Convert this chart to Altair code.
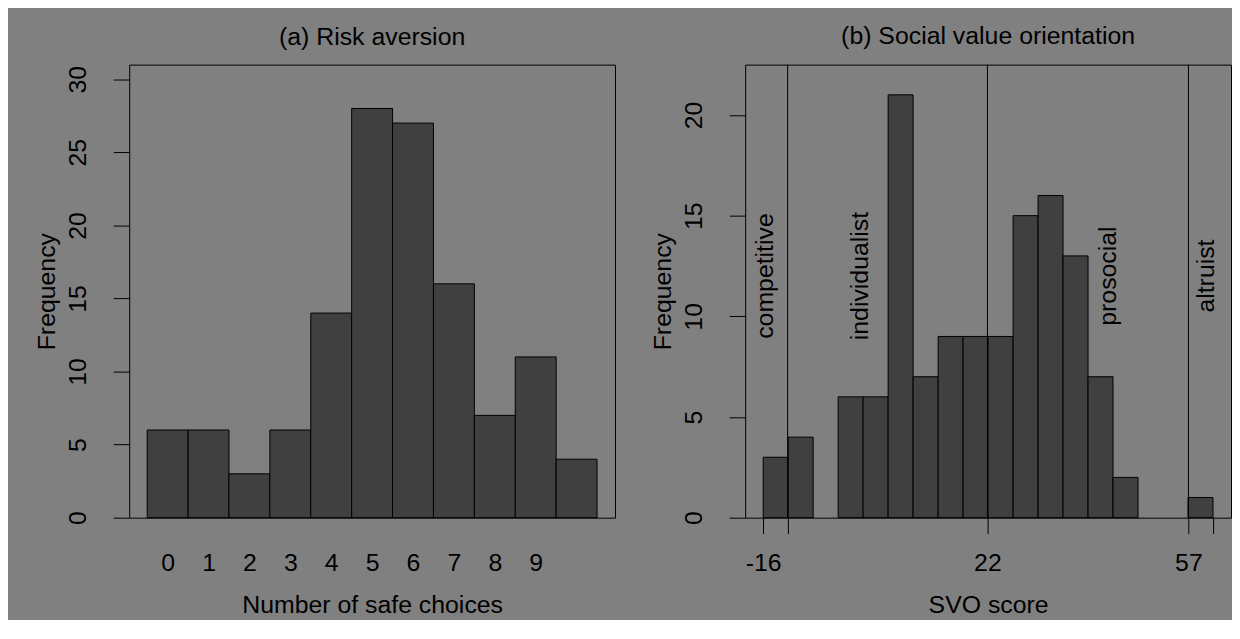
import altair as alt
import pandas as pd

# ---------------- data ----------------
# (a) Risk aversion: number of safe choices (0..10) and their frequencies
safe_choices = [0, 1, 2, 3, 4, 5, 6, 7, 8, 9, 10]
safe_counts = [6, 6, 3, 6, 14, 28, 27, 16, 7, 11, 4]
safe_tick_values = [0, 1, 2, 3, 4, 5, 6, 7, 8, 9]
safe_y_ticks = [0, 5, 10, 15, 20, 25, 30]

# (b) Social value orientation: histogram bin edges and counts
svo_edges = [-16.26, -11.95, -7.63, -3.32, 0.99, 5.31, 9.62, 13.94, 18.25,
             22.56, 26.88, 31.19, 35.50, 39.82, 44.13, 48.45, 52.76, 57.08, 61.39]
svo_counts = [3, 4, 0, 6, 6, 21, 7, 9, 9, 9, 15, 16, 13, 7, 2, 0, 0, 1]
svo_tick_values = [-16.26, -12.04, 22.45, 57.15, 61.39]
svo_tick_labels = ["-16", "", "22", "57", ""]
svo_y_ticks = [0, 5, 10, 15, 20]
svo_boundaries = [-12.04, 22.45, 57.15]
svo_types = ["competitive", "individualist", "prosocial", "altruist"]
svo_type_x = [-15.9, 0.4, 43.2, 60.2]
svo_type_y = [12, 12, 12, 12]

# ---------------- style ----------------
FONT = "Liberation Sans"
FS = 25
BG = "#808080"
BAR = "#404040"
INK = "#000000"
W, H = 489, 456

common_axis = dict(
    domain=False, grid=False,
    labelFont=FONT, labelFontSize=FS, labelColor=INK,
    titleFont=FONT, titleFontSize=FS, titleFontWeight="normal", titleColor=INK,
    tickColor=INK, tickSize=16, tickWidth=1,
    labelFlush=False, labelOverlap=False,
)


def x_axis(values, title, tick_opacity=1, label_expr=None):
    kw = dict(common_axis)
    kw.update(values=values, title=title, tickOpacity=tick_opacity,
              labelPadding=17, labelBaseline="top", labelAngle=0,
              titlePadding=17, titleBaseline="top")
    if label_expr is not None:
        kw["labelExpr"] = label_expr
    return alt.Axis(**kw)


def y_axis(values):
    kw = dict(common_axis)
    kw.update(values=values, title="Frequency", labelAngle=270,
              labelAlign="center", labelBaseline="alphabetic", labelPadding=28,
              titleAngle=270, titleBaseline="alphabetic", titlePadding=11,
              format="d")
    return alt.Axis(**kw)


def panel_title(text):
    return alt.Title(text, font=FONT, fontSize=FS, fontWeight="normal",
                     color=INK, offset=15, baseline="top", anchor="middle")


# ---------------- panel (a) ----------------
df_a = pd.DataFrame({
    "x": [c - 0.5 for c in safe_choices],
    "x2": [c + 0.5 for c in safe_choices],
    "y": safe_counts,
    "y0": [0] * len(safe_counts),
})
xa = alt.X("x:Q", scale=alt.Scale(domain=[-0.94, 10.94], nice=False, zero=False),
           axis=x_axis(safe_tick_values, "Number of safe choices", tick_opacity=0))
ya = alt.Y("y:Q", scale=alt.Scale(domain=[0, 31], nice=False, zero=False),
           axis=y_axis(safe_y_ticks))

panel_a = alt.Chart(df_a).mark_rect(fill=BAR, stroke=INK, strokeWidth=1).encode(
    x=xa, x2="x2:Q", y=ya, y2="y0:Q"
).properties(width=W, height=H, title=panel_title("(a) Risk aversion"))

# ---------------- panel (b) ----------------
df_b = pd.DataFrame({
    "x": svo_edges[:-1],
    "x2": svo_edges[1:],
    "y": svo_counts,
    "y0": [0] * len(svo_counts),
})
df_b = df_b[df_b["y"] > 0]

label_expr = " : ".join(
    [f"abs(datum.value - ({v})) < 0.001 ? '{l}'" for v, l in zip(svo_tick_values, svo_tick_labels)]
) + " : ''"

xb_scale = alt.Scale(domain=[-19.37, 64.50], nice=False, zero=False)
yb_scale = alt.Scale(domain=[0, 22.5], nice=False, zero=False)


def xb():
    return alt.X("x:Q", scale=xb_scale,
                 axis=x_axis(svo_tick_values, "SVO score", label_expr=label_expr))


def yb():
    return alt.Y("y:Q", scale=yb_scale, axis=y_axis(svo_y_ticks))


bars_b = alt.Chart(df_b).mark_rect(fill=BAR, stroke=INK, strokeWidth=1).encode(
    x=xb(), x2="x2:Q", y=yb(), y2="y0:Q"
)

df_rules = pd.DataFrame({"x": svo_boundaries})
rules_b = alt.Chart(df_rules).mark_rule(color=INK, strokeWidth=1).encode(x=xb())

df_types = pd.DataFrame({"x": svo_type_x, "y": svo_type_y, "t": svo_types})
text_b = alt.Chart(df_types).mark_text(
    angle=270, font=FONT, fontSize=FS, color=INK, align="center", baseline="middle"
).encode(x=xb(), y=yb(), text="t:N")

panel_b = alt.layer(bars_b, rules_b, text_b).properties(
    width=W, height=H, title=panel_title("(b) Social value orientation")
)

chart = alt.hconcat(panel_a, panel_b, spacing=34).properties(
    background=BG,
    padding={"left": 26, "top": 14, "right": 0, "bottom": 0},
).configure_view(stroke=INK, strokeWidth=1, fill=None)

chart.save("out.html", embed_options={"renderer": "svg", "actions": False})
